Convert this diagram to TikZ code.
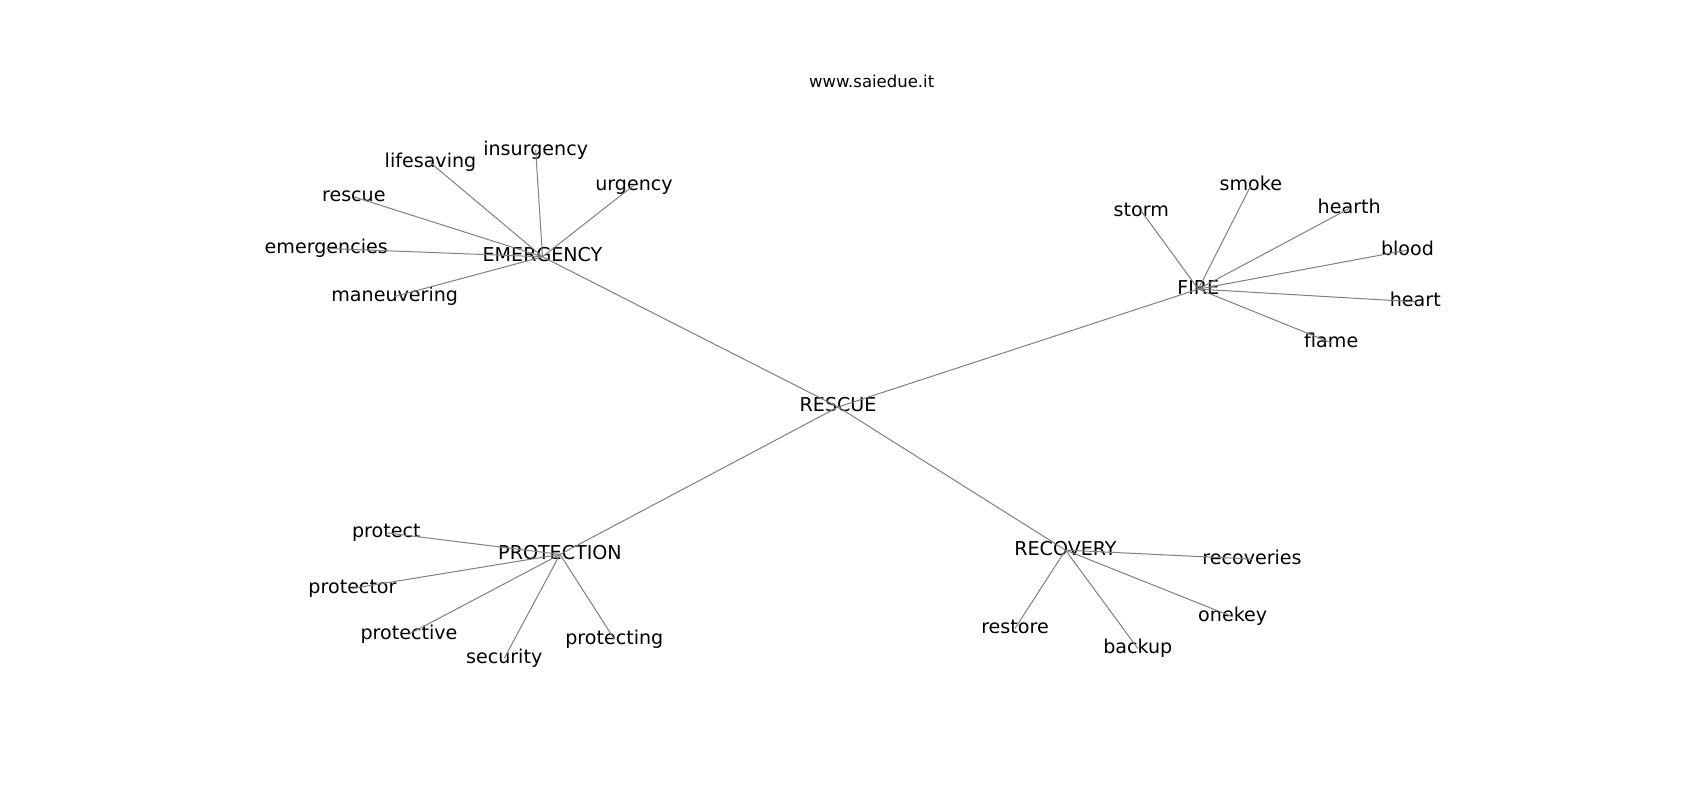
\documentclass[tikz,border=0pt]{standalone}
\usepackage{fontspec}
\setmainfont{DejaVu Sans}
\begin{document}
\begin{tikzpicture}[x=1pt,y=-1pt,
  lab/.style={inner sep=0pt, text height=14.5pt, text depth=4.6pt,
    font=\fontsize{19.1}{23}\selectfont, text=black},
  ttl/.style={inner sep=0pt, anchor=base, font=\fontsize{16.5}{20}\selectfont, text=black},
  edge/.style={draw=black!50, line width=1pt}]
\useasboundingbox[fill=white] (0,0) rectangle (1700,800);
\node[ttl] (title) at (871.7,87.7) {www.saiedue.it};
% hubs
\node[lab] (rescueC) at (838.1,407) {RESCUE};
\node[lab] (emergency) at (542.5,256.8) {EMERGENCY};
\node[lab] (fire) at (1198.3,289.1) {FIRE};
\node[lab] (protection) at (560,554.4) {PROTECTION};
\node[lab] (recovery) at (1065.5,550.1) {RECOVERY};
% emergency leaves
\node[lab] (lifesaving) at (430.5,162.8) {lifesaving};
\node[lab] (insurgency) at (535.7,150.1) {insurgency};
\node[lab] (urgency) at (634,185.1) {urgency};
\node[lab] (rescueL) at (353.8,196.8) {rescue};
\node[lab] (emergencies) at (326.3,248.4) {emergencies};
\node[lab] (maneuvering) at (394.7,296.5) {maneuvering};
% fire leaves
\node[lab] (storm) at (1141.3,211.1) {storm};
\node[lab] (smoke) at (1250.8,185.8) {smoke};
\node[lab] (hearth) at (1349.2,208.5) {hearth};
\node[lab] (blood) at (1407.5,250.1) {blood};
\node[lab] (heart) at (1415.3,301.8) {heart};
\node[lab] (flame) at (1331.2,342.8) {flame};
% protection leaves
\node[lab] (protect) at (386.3,532.8) {protect};
\node[lab] (protector) at (352.5,588.4) {protector};
\node[lab] (protective) at (409,634.1) {protective};
\node[lab] (security) at (504.2,658.4) {security};
\node[lab] (protecting) at (614.3,639.1) {protecting};
% recovery leaves
\node[lab] (recoveries) at (1252,559.1) {recoveries};
\node[lab] (onekey) at (1232.7,616.8) {onekey};
\node[lab] (backup) at (1137.8,648.5) {backup};
\node[lab] (restore) at (1015,628.5) {restore};
% edges
\foreach \a/\b in {rescueC/emergency, rescueC/fire, rescueC/protection, rescueC/recovery,
  emergency/lifesaving, emergency/insurgency, emergency/urgency, emergency/rescueL,
  emergency/emergencies, emergency/maneuvering,
  fire/storm, fire/smoke, fire/hearth, fire/blood, fire/heart, fire/flame,
  protection/protect, protection/protector, protection/protective, protection/security, protection/protecting,
  recovery/recoveries, recovery/onekey, recovery/backup, recovery/restore}
  \draw[edge] (\a.center) -- (\b.center);
\end{tikzpicture}
\end{document}
